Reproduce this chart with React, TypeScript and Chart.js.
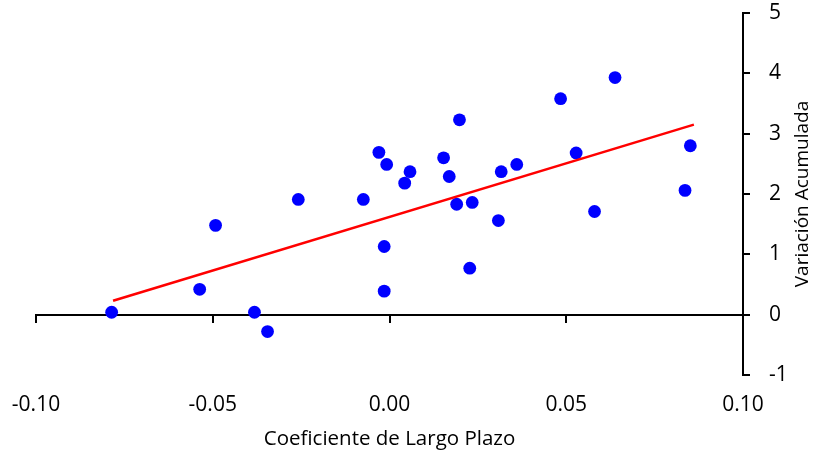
import { useEffect, useRef } from "react";
import { Chart, registerables } from "chart.js";

Chart.register(...registerables);

// Coeficiente de Largo Plazo (x) and Variación Acumulada (y)
const coefX = [
  -0.0786, -0.0537, -0.0492, -0.0382, -0.0345, -0.0258, -0.0074, -0.003,
  -0.0008, -0.0015, -0.0015, 0.0043, 0.0058, 0.0153, 0.0169, 0.0198, 0.019,
  0.0234, 0.0227, 0.0308, 0.0316, 0.036, 0.0484, 0.0528, 0.058, 0.0638,
  0.0836, 0.0851,
];
const variacionY = [
  0.04, 0.42, 1.48, 0.04, -0.28, 1.91, 1.91, 2.69, 2.49, 1.13, 0.39, 2.18,
  2.37, 2.6, 2.29, 3.23, 1.83, 1.86, 0.77, 1.56, 2.37, 2.49, 3.58, 2.68, 1.71,
  3.93, 2.06, 2.8,
];

// Trend line endpoints
const trendX = [-0.0782, 0.0861];
const trendY = [0.23, 3.15];

const xTicks = [-0.1, -0.05, 0, 0.05, 0.1];
const yTicks = [-1, 0, 1, 2, 3, 4, 5];

const xTitle = "Coeficiente de Largo Plazo";
const yTitle = "Variación Acumulada";

const FONT = '"Open Sans", "Liberation Sans", sans-serif';

export default function App() {
  const ref = useRef<HTMLCanvasElement | null>(null);

  useEffect(() => {
    if (!ref.current) return;
    const font = { family: FONT, size: 21 };

    const yTitlePlugin = {
      id: "yTitlePlugin",
      afterDraw(chart: any) {
        const { ctx, chartArea } = chart;
        ctx.save();
        ctx.translate(803, (chartArea.top + chartArea.bottom) / 2);
        ctx.rotate(-Math.PI / 2);
        ctx.textAlign = "center";
        ctx.textBaseline = "middle";
        ctx.fillStyle = "#000";
        ctx.font = `19px ${FONT}`;
        ctx.fillText(yTitle, 0, 0);
        ctx.restore();
      },
    };

    const chart = new Chart(ref.current, {
      type: "scatter",
      data: {
        datasets: [
          {
            label: "Tendencia",
            data: trendX.map((x, i) => ({ x, y: trendY[i] })),
            showLine: true,
            borderColor: "#ff0000",
            borderWidth: 2.5,
            pointRadius: 0,
            order: 0,
          },
          {
            label: "Datos",
            data: coefX.map((x, i) => ({ x, y: variacionY[i] })),
            backgroundColor: "#0000ff",
            borderWidth: 0,
            pointRadius: 6.4,
            order: 1,
          },
        ],
      },
      options: {
        animation: false,
        responsive: true,
        maintainAspectRatio: false,
        layout: { padding: { left: 36, top: 13, right: 0, bottom: 0 } },
        plugins: {
          legend: { display: false },
          tooltip: { enabled: false },
        },
        scales: {
          x: {
            type: "linear",
            min: -0.1,
            max: 0.1,
            position: { y: 0 } as any,
            afterBuildTicks: (s: any) => {
              s.ticks = xTicks.map((v) => ({ value: v }));
            },
            afterFit: (s: any) => {
              s.paddingLeft = 0;
              s.paddingRight = 0;
              s.paddingTop = 0;
              s.paddingBottom = 0;
            },
            ticks: { display: false },
            grid: {
              drawOnChartArea: false,
              drawTicks: true,
              tickLength: 7,
              color: "#000",
              lineWidth: 2,
            },
            border: { color: "#000", width: 2 },
          },
          x2: {
            type: "linear",
            axis: "x",
            min: -0.1,
            max: 0.1,
            position: "bottom",
            afterBuildTicks: (s: any) => {
              s.ticks = xTicks.map((v) => ({ value: v }));
            },
            afterFit: (s: any) => {
              s.height = 76;
              s.paddingLeft = 0;
              s.paddingRight = 0;
            },
            ticks: {
              font,
              color: "#000",
              padding: 17,
              maxRotation: 0,
              callback: (v: any) => (Math.abs(v) < 1e-9 ? "0.00" : Number(v).toFixed(2)),
            },
            grid: { display: false, drawTicks: false },
            border: { display: false },
            title: {
              display: true,
              text: xTitle,
              font: { family: FONT, size: 20.5 },
              color: "#000",
              padding: { top: 3, bottom: 0 },
            },
          },
          y: {
            type: "linear",
            min: -1,
            max: 5,
            position: "right",
            afterBuildTicks: (s: any) => {
              s.ticks = yTicks.map((v) => ({ value: v }));
            },
            afterFit: (s: any) => {
              s.width = 70;
              s.paddingTop = 0;
              s.paddingBottom = 0;
            },
            ticks: { font, color: "#000", padding: 19 },
            grid: {
              drawOnChartArea: false,
              drawTicks: true,
              tickLength: 7,
              color: "#000",
              lineWidth: 2,
            },
            border: { color: "#000", width: 2 },
          },
        },
      },
      plugins: [yTitlePlugin],
    });
    return () => chart.destroy();
  }, []);

  return (
    <div style={{ position: "fixed", left: 0, top: 0, width: 813, height: 451, background: "#fff" }}>
      <canvas ref={ref} />
    </div>
  );
}
